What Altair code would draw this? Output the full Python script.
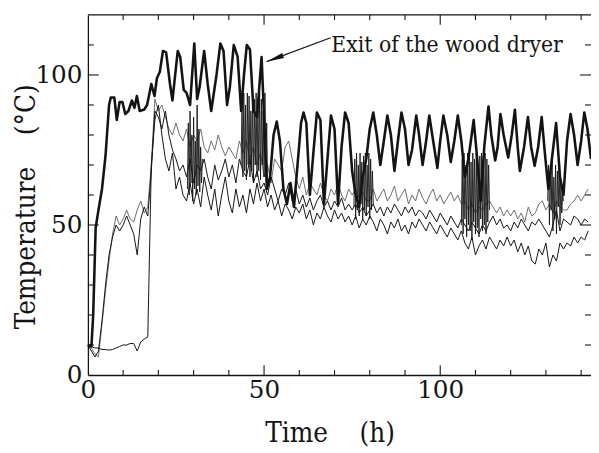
import altair as alt
import pandas as pd

# ---------------- data ----------------
# Exit of the wood dryer (thick line): time (h) and temperature (°C)
exit_t = [0, 1, 1.5, 2.2, 3, 4, 5, 6, 6.5, 7.5, 8.2, 9, 9.8, 10.6, 11.5, 12.5, 13.2, 13.9, 14.7, 16,
          16.8, 18, 18.9, 19.6, 20.4, 21.3, 22.2, 23.3, 24, 25.5, 26.2, 27.2, 28, 29, 30.2, 31, 31.7, 33, 34, 35,
          36.5, 37.6, 38.5, 39.5, 40.3, 41.4, 42.5, 43.5, 44.3, 45.1, 46, 47, 48, 49.3, 50, 50.8, 51.7, 52.7, 53.6, 54.5,
          55.5, 56.5, 57.5, 58.5, 59.5, 60.5, 61.2, 62, 63, 64, 65, 66, 67, 68, 69, 70, 71, 72, 73, 74,
          75, 76, 77, 78, 79, 80, 81, 82, 83, 84, 85, 86, 87, 88, 89, 90, 91, 92, 93.2, 94,
          95, 96, 96.9, 98, 99.2, 100, 100.9, 102, 103, 104, 105, 106, 107, 108, 109.5, 110.5, 111.5, 112.5, 113.7, 114.5,
          115.6, 116.3, 117.1, 118, 119.3, 120.3, 121.2, 122, 122.6, 123.8, 124.9, 125.8, 126.8, 127.8, 128.8, 129.7, 130.7, 131.7, 132.9, 134,
          135, 136, 137, 138, 139, 140, 140.9, 141.8, 142.8]
exit_v = [10, 9.5, 20, 49, 55, 62, 73, 90, 92.5, 92.5, 85, 91, 91, 87, 88, 91.5, 89, 93, 88, 88.5,
          90, 97, 93, 99, 101, 108, 107.5, 97, 91.5, 108, 106, 95, 94, 90, 110.5, 92, 96, 108, 97, 88,
          100, 110.5, 108, 90, 96, 110, 106, 88, 100, 110, 108.5, 88, 86, 106, 86, 62, 66, 80, 84.5, 78,
          62, 57, 64, 56, 70, 84, 87.5, 84, 60, 74, 87.5, 85, 57, 72, 86.5, 82, 57, 76, 87.5, 84,
          68, 60, 56, 66, 72, 82, 87.5, 80, 70, 78, 86.5, 80, 68, 78, 87.5, 82, 70, 75, 86.5, 80,
          70, 78, 86.5, 78, 69, 78, 86.5, 80, 71, 78, 86.5, 78, 66, 72, 85, 72, 58, 76, 89.5, 80,
          71.5, 76, 87, 80, 72.5, 80, 88.4, 76, 68, 76, 86, 76, 69.7, 76, 86, 74, 62, 72, 84, 66,
          60, 78, 87, 80, 70, 78, 87.5, 82, 72]

# Three other measuring points, sampled every hour from 0 h to 142 h
hours = list(range(0, 143))
point_b = [10, 9, 7, 6, 17, 28, 38, 47, 53, 50,
           52, 55, 52, 51, 55, 58, 54, 56, 70, 92,
           88, 90, 86, 82, 80, 84, 80, 78, 82, 76,
           80, 78, 82, 76, 74, 78, 75, 80, 76, 73,
           76, 74, 72, 78, 74, 78, 72, 76, 70, 74,
           66, 70, 64, 72, 70, 68, 76, 78, 72, 66,
           62, 66, 60, 64, 62, 60, 64, 60, 58, 62,
           60, 64, 60, 58, 62, 60, 62, 59, 61, 58,
           58, 62, 58, 60, 62, 58, 60, 63, 58, 60,
           62, 57, 60, 58, 62, 59, 57, 60, 62, 58,
           60, 57, 59, 61, 58, 60, 57, 58, 55, 57,
           54, 56, 55, 57, 58, 56, 54, 56, 53, 55,
           53, 55, 52, 54, 51, 56, 53, 54, 57, 58,
           55, 57, 54, 58, 56, 55, 55, 57, 58, 60,
           58, 60, 62]
point_c = [10, 8, 6, 8, 18, 30, 40, 46, 50, 48,
           50, 53, 50, 47, 40, 52, 56, 53, 68, 88,
           86, 82, 88, 80, 75, 72, 68, 70, 66, 72,
           64, 70, 68, 72, 66, 62, 70, 65, 68, 72,
           66, 70, 64, 72, 68, 66, 72, 64, 68, 62,
           64, 60, 66, 62, 58, 62, 60, 64, 58, 62,
           57, 60, 56, 59, 55, 58, 60, 56, 58, 55,
           58, 56, 59, 55, 57, 55, 57, 54, 56, 53,
           55, 57, 54, 56, 53, 56, 54, 57, 55, 53,
           56, 54, 56, 53, 55, 54, 52, 55, 53, 51,
           54, 52, 50, 53, 51, 49, 52, 50, 48, 51,
           49, 47, 50, 48, 51, 53, 50, 52, 49, 50,
           48, 51, 49, 52, 50, 48, 51, 50, 52, 50,
           48, 46, 50, 55, 48, 52, 51, 50, 53, 52,
           50, 52, 51]
point_d = [10, 9.5, 9, 9, 8.5, 8.5, 8.3, 8.5, 9, 9.5,
           10, 10, 10.5, 10.5, 8, 11, 12, 12.7, 70, 85,
           90, 80, 72, 68, 74, 62, 66, 60, 58, 64,
           57, 62, 56, 66, 60, 55, 62, 53, 60, 66,
           58, 54, 62, 56, 60, 54, 62, 57, 64, 58,
           62, 56, 60, 55, 58, 53, 57, 55, 52, 56,
           54, 57, 52, 55, 50, 54, 52, 56, 53, 51,
           55, 52, 54, 51, 53, 50, 53, 49, 52, 50,
           53, 51, 48, 52, 50, 47, 51, 49, 52, 48,
           50, 47, 51, 49, 52, 50, 48, 51, 49, 47,
           50, 48, 46, 49, 47, 45, 48, 44, 42, 46,
           40, 43, 45, 42, 46, 44, 42, 45, 43, 46,
           43, 45, 41, 44, 40, 43, 38, 37, 42, 40,
           44, 36, 40, 38, 44, 42, 44, 43, 46, 44,
           46, 45, 48]

# Rapid fluctuation bursts, sampled every 0.25 h from their start time
burst_step = 0.25
burst1_start = 28.25
burst1 = [62, 84, 60, 88, 64, 80, 58, 86, 62, 78, 60, 90, 63, 82, 61, 76, 64, 72]
burst2_start = 43.5
burst2 = [70, 92, 66, 94, 68, 90, 65, 94, 70, 93, 66, 88, 68, 94, 64, 92,
          70, 94, 66, 90, 68, 94, 65, 92, 70, 88, 66, 94, 68, 84, 64]
burst3_start = 75.5
burst3 = [56, 72, 52, 74, 55, 70, 53, 74, 57, 71, 52, 73, 55, 74, 53, 70, 56, 74, 52, 72, 55, 68, 57]
burst4_start = 106
burst4 = [50, 72, 47, 74, 52, 70, 46, 74, 50, 73, 48, 71, 45, 74, 51, 72, 47,
          74, 49, 70, 46, 73, 52, 74, 48, 71, 50, 74, 47, 72, 51, 70, 55]
burst5_start = 130.5
burst5 = [58, 70, 50, 68, 55, 72, 48, 66, 52, 70, 47, 68, 56, 71, 50, 64, 54, 60, 58]

# Axis ticks
x_tick_values = [10, 20, 30, 40, 50, 60, 70, 80, 90, 100, 110, 120, 130, 140]
x_major_ticks = [50, 100]
x_label_values = [0, 50, 100]
y_tick_values = [10, 20, 30, 40, 50, 60, 70, 80, 90, 100, 110]
y_major_ticks = [50, 100]
y_label_values = [0, 50, 100]

# Annotation
annot_text = "Exit of the wood dryer"
annot_t, annot_v = 69.1, 107.6
arrow_from_t, arrow_from_v = 68.9, 112.4
arrow_tip_t, arrow_tip_v = 50.7, 104.45
arrow_head_t, arrow_head_v = 53.04, 105.46

# ---------------- chart ----------------
W, H = 510, 365
FONT = "DejaVu Serif"
FONT_C = "DejaVu Serif Condensed"
INK = "#141414"
NB = "\u00a0"

xs = alt.Scale(domain=[0, 142.8], nice=False, zero=False)
ys = alt.Scale(domain=[0, 120], nice=False, zero=False)

x_axis = alt.Axis(values=x_label_values, title="Time" + NB * 4 + "(h)", titleFont=FONT_C, titleFontSize=28,
                  titleFontWeight="normal", titleColor=INK, titleX=245, titleY=67, titleAlign="center",
                  titleBaseline="alphabetic", labelFont=FONT, labelFontSize=25, labelColor=INK,
                  labelPadding=3, labelFlush=False, labelOverlap=False, ticks=False, tickSize=0,
                  grid=False, domainColor=INK, domainWidth=1.3)
y_axis = alt.Axis(values=y_label_values, title="Temperature" + NB * 4 + "(°C)", titleFont=FONT_C,
                  titleFontSize=28, titleFontWeight="normal", titleColor=INK, titleX=-54, titleY=194,
                  titleAngle=270, titleAlign="center", titleBaseline="alphabetic", labelFont=FONT,
                  labelFontSize=25, labelColor=INK, labelPadding=6, labelFlush=False, labelOverlap=False,
                  ticks=False, tickSize=0, grid=False, domainColor=INK, domainWidth=1.3)


def X(field):
    return alt.X(field, scale=xs, axis=x_axis)


def Y(field):
    return alt.Y(field, scale=ys, axis=y_axis)


thin_rows = []
for name, vals in [("B", point_b), ("C", point_c), ("D", point_d)]:
    for t, v in zip(hours, vals):
        thin_rows.append({"t": t, "v": v, "s": name})
thin_df = pd.DataFrame(thin_rows)

burst_rows = []
for i, (start, vals) in enumerate([(burst1_start, burst1), (burst2_start, burst2), (burst3_start, burst3),
                                   (burst4_start, burst4), (burst5_start, burst5)]):
    for k, v in enumerate(vals):
        burst_rows.append({"t": start + k * burst_step, "v": v, "b": f"burst{i}"})
burst_df = pd.DataFrame(burst_rows)

exit_df = pd.DataFrame({"t": exit_t, "v": exit_v})

thin = alt.Chart(thin_df).mark_line(strokeWidth=1.0, strokeJoin="round").encode(
    x=X("t:Q"), y=Y("v:Q"),
    color=alt.Color("s:N", scale=alt.Scale(domain=["B", "C", "D"], range=["#6e6e6e", INK, INK]), legend=None),
)

bursts = alt.Chart(burst_df).mark_line(strokeWidth=0.9, color=INK).encode(
    x=X("t:Q"), y=Y("v:Q"), detail="b:N")

thick = alt.Chart(exit_df).mark_line(strokeWidth=2.6, color=INK, strokeJoin="round").encode(
    x=X("t:Q"), y=Y("v:Q"))

# frame top line
top_line = alt.Chart(pd.DataFrame({"a": [0]})).mark_rule(color=INK, strokeWidth=1.3).encode(
    x=alt.value(0), x2=alt.value(W), y=alt.value(0))


def xticks(vals, length, top):
    d = pd.DataFrame({"t": vals})
    if top:
        y1, y2 = 0, length
    else:
        y1, y2 = H, H - length
    return alt.Chart(d).mark_rule(color=INK, strokeWidth=1.1).encode(
        x=X("t:Q"), y=alt.value(y1), y2=alt.value(y2))


def yticks(vals, length, right):
    d = pd.DataFrame({"v": vals})
    if right:
        x1, x2 = W, W - length
    else:
        x1, x2 = 0, length
    return alt.Chart(d).mark_rule(color=INK, strokeWidth=1.1).encode(
        y=Y("v:Q"), x=alt.value(x1), x2=alt.value(x2))


minor_x = [t for t in x_tick_values if t not in x_major_ticks]
minor_y = [v for v in y_tick_values if v not in y_major_ticks]
tick_layers = [
    xticks(minor_x, 5, False), xticks(x_major_ticks, 10, False),
    xticks(minor_x, 5, True), xticks(x_major_ticks, 10, True),
    yticks(minor_y, 6, False), yticks(y_major_ticks, 11, False),
    yticks(minor_y, 6, True), yticks(y_major_ticks, 11, True),
]

annot = alt.Chart(pd.DataFrame({"t": [annot_t], "v": [annot_v], "label": [annot_text]})).mark_text(
    align="left", baseline="alphabetic", font=FONT_C, fontSize=23, color=INK).encode(
    x=X("t:Q"), y=Y("v:Q"), text="label:N")

shaft = alt.Chart(pd.DataFrame({"t": [arrow_from_t], "v": [arrow_from_v],
                                "t2": [arrow_tip_t], "v2": [arrow_tip_v]})).mark_rule(
    color=INK, strokeWidth=1.2).encode(
    x=X("t:Q"), y=Y("v:Q"), x2="t2:Q", y2="v2:Q")

head = alt.Chart(pd.DataFrame({"t": [arrow_head_t], "v": [arrow_head_v]})).mark_point(
    shape="M -1 0 L 1 -0.3 L 1 0.3 Z", size=324, angle=339.5, filled=True, color=INK, opacity=1,
    strokeWidth=0).encode(x=X("t:Q"), y=Y("v:Q"))

chart = alt.layer(thin, bursts, thick, top_line, *tick_layers, annot, shaft, head).properties(
    width=W, height=H,
    autosize=alt.AutoSizeParams(type="none"),
    padding={"left": 81, "top": 4, "right": 0, "bottom": 76},
    background="white",
).configure_view(stroke=None)

chart.save("out.html", embed_options={"renderer": "svg", "actions": False})
